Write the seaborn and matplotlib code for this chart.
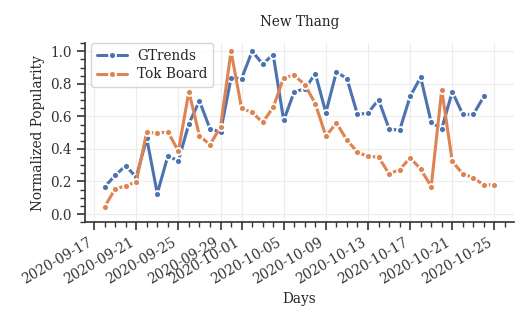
import numpy as np
import pandas as pd
import matplotlib
matplotlib.use("Agg")
import matplotlib.pyplot as plt
import matplotlib.dates as mdates
import seaborn as sns

dates = pd.date_range("2020-09-18", "2020-10-25", freq="D")
gtrends = [0.167, 0.237, 0.297, 0.227, 0.465, 0.126, 0.356, 0.327, 0.555, 0.695,
           0.524, 0.504, 0.836,
           0.832, 1.0, 0.922, 0.98, 0.575, 0.752, 0.768, 0.863, 0.623, 0.873,
           0.832, 0.612,
           0.62, 0.703, 0.524, 0.514, 0.723, 0.840, 0.563, 0.524, 0.752, 0.612,
           0.612, 0.723, np.nan]
tokboard = [0.044, 0.155, 0.172, 0.198, 0.504, 0.496, 0.506, 0.387, 0.752, 0.481,
            0.426, 0.535, 1.0,
            0.649, 0.625, 0.563, 0.655, 0.838, 0.852, 0.795, 0.678, 0.479, 0.559,
            0.455, 0.38,
            0.354, 0.350, 0.247, 0.272, 0.346, 0.276, 0.169, 0.764, 0.323, 0.247,
            0.223, 0.178, 0.180]
series_names = ["GTrends", "Tok Board"]

df = pd.DataFrame({"Days": dates, series_names[0]: gtrends, series_names[1]: tokboard})
long = df.melt(id_vars="Days", var_name="Source", value_name="Normalized Popularity").dropna()

sns.set_theme(style="ticks")
plt.rcParams["font.family"] = ["DejaVu Serif"]
plt.rcParams.update({
    "axes.grid": True,
    "grid.color": "#ececec",
    "grid.linewidth": 0.8,
    "axes.edgecolor": "#333333",
    "xtick.color": "#333333",
    "ytick.color": "#333333",
    "axes.linewidth": 1.2,
})

fig, ax = plt.subplots(figsize=(5.32, 3.22), dpi=100)
palette = sns.color_palette("deep", 2)
sns.lineplot(data=long, x="Days", y="Normalized Popularity", hue="Source",
             hue_order=series_names, palette=palette, marker="o", markersize=5,
             markeredgecolor="white", markeredgewidth=1.3,
             linewidth=2.2, linestyle="-", ax=ax)

ax.set_ylim(-0.05, 1.05)
ax.set_title("New Thang", fontsize=9.8, pad=12)
ax.set_xlabel("Days", fontsize=9.8)
ax.set_ylabel("Normalized Popularity", fontsize=9.8)
ax.xaxis.set_major_locator(mdates.AutoDateLocator())
ax.xaxis.set_major_formatter(mdates.DateFormatter("%Y-%m-%d"))
ax.xaxis.set_minor_locator(mdates.DayLocator())
ax.yaxis.set_minor_locator(matplotlib.ticker.AutoMinorLocator())
ax.tick_params(axis="both", which="major", length=6, width=1.2, labelsize=9.8)
ax.tick_params(axis="both", which="minor", length=3.5, width=1.0)
for lab in ax.get_xticklabels():
    lab.set_rotation(30)
    lab.set_ha("right")
sns.despine(ax=ax)

leg = ax.legend(loc="upper left", bbox_to_anchor=(0.014, 1.0), borderaxespad=0,
                fontsize=9.8, frameon=True, title=None,
                handlelength=2.2, labelspacing=0.35)
leg.get_frame().set_edgecolor("#cccccc")

fig.subplots_adjust(left=0.16, right=0.966, top=0.866, bottom=0.31)
fig.savefig("out.png", dpi=100)
